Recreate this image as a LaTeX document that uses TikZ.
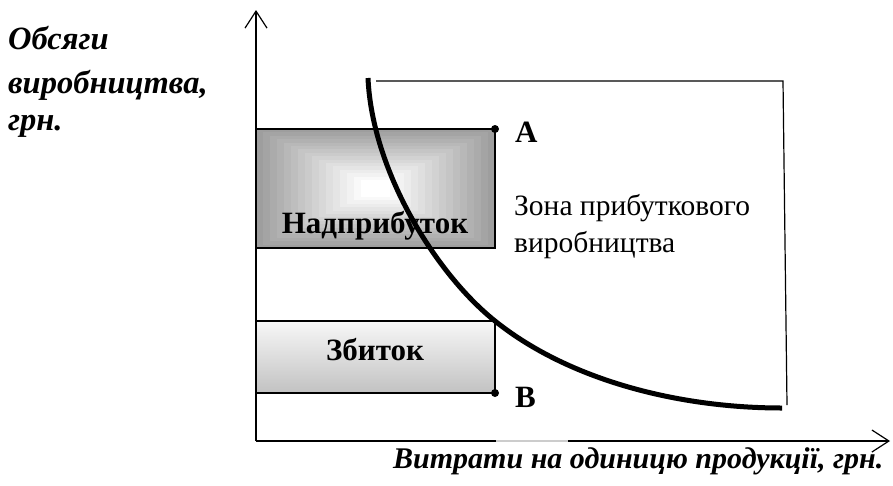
\documentclass[tikz,border=0pt]{standalone}
\usepackage{fontspec}
\setmainfont{Liberation Serif}
\usetikzlibrary{arrows.meta}
\tikzset{
  reg/.style={font=\fontsize{29.5}{32}\selectfont, inner sep=0pt, anchor=base west},
  bld/.style={font=\fontsize{31}{34}\selectfont\bfseries, inner sep=0pt, anchor=base},
  bit/.style={font=\fontsize{30}{34}\selectfont\bfseries\itshape, inner sep=0pt, anchor=base west},
  bitl/.style={font=\fontsize{32.5}{34}\selectfont\bfseries\itshape, inner sep=0pt, anchor=base west},
  thin/.style={line width=1.2pt},
  axis/.style={line width=1.2pt, -{Straight Barb[length=17pt,width=22pt,line width=1.2pt]}},
  dot/.style={fill=black}
}
\begin{document}
\begin{tikzpicture}[x=1pt,y=-1pt]
\useasboundingbox (0,0) rectangle (893,485);
% coordinates
\coordinate (O) at (256,441);
\coordinate (A) at (495,129);
\coordinate (B) at (495,393);
\coordinate (C) at (495,321);
% top rectangle shading (rectangular gradient)
\foreach \i in {0,...,15} {
  \pgfmathsetmacro\g{38*(1-\i/15)}
  \fill[black!\g] (256+\i*7, 129+\i*3.4) rectangle (495-\i*7, 248-\i*3.4);
}
% bottom rectangle shading
\shade[top color=black!3, bottom color=black!24] (256,321) rectangle (495,393);
\draw[thin] (256,129) -- (A) -- (495,248) -- (256,248);
\draw[thin] (256,321) -- (C) -- (B) -- (256,393);
% axes
\draw[axis] (O) -- (256,10);
\draw[axis] (O) -- (890,441);
\draw[black!20, line width=1.3pt] (496,441) -- (568,441);
% profit zone
\draw[thin] (376,81) -- (783,81) -- (787,405);
% curve
\draw[line width=5pt] (368,78) .. controls (372,170) and (435,273) .. (C)
  .. controls (570,381) and (680,408) .. (782,408);
% dots
\fill[dot] (A) circle (4pt);
\fill[dot] (B) circle (4pt);
% labels
\node[bld, anchor=base west] (la) at (515,142) {A};
\node[bld, anchor=base west] (lb) at (515,407) {B};
\node[bld] (nad) at (375,233) {Надприбуток};
\node[bld] (zb) at (375,360) {Збиток};
\node[reg] (z1) at (514,215) {Зона прибуткового};
\node[reg] (z2) at (514,252) {виробництва};
\node[bitl] (y1) at (8,49) {Обсяги};
\node[bitl] (y2) at (8,93) {виробництва,};
\node[bitl] (y3) at (8,130) {грн.};
\node[bit] (xl) at (393,468) {Витрати на одиницю продукції, грн.};
\end{tikzpicture}
\end{document}
